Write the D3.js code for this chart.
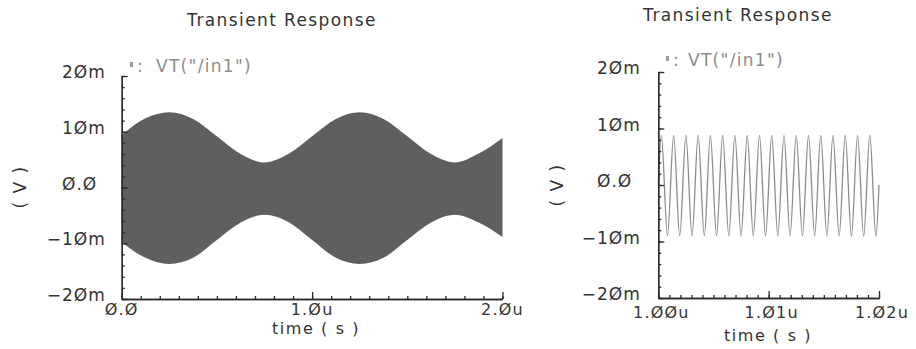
<!DOCTYPE html>
<html>
<head>
<meta charset="utf-8">
<script src="https://cdn.jsdelivr.net/npm/d3@7.9.0/dist/d3.min.js"></script>
<style>
  body { margin: 0; background: #fff; }
  svg { display: block; }
  text { font-family: "DejaVu Sans", sans-serif; }
</style>
</head>
<body>
<svg id="chart" width="916" height="349"></svg>
<script>
// Left trace is too dense to show cycles, so keep its envelope (time in µs, value in mV)
const leftTimes = [0, 0.125, 0.25, 0.375, 0.5, 0.625, 0.75, 0.875, 1.0,
                   1.125, 1.25, 1.375, 1.5, 1.625, 1.75, 1.875, 2.0];
const leftUpper = [9.4, 12.4, 13.5, 12.3, 9.2, 6.0, 4.5, 6.0, 9.2,
                   12.3, 13.5, 12.3, 9.2, 6.0, 4.5, 6.1, 8.9];
const leftLower = [-9.8, -12.6, -13.7, -12.6, -9.4, -6.3, -4.9, -6.2, -9.4,
                   -12.6, -13.7, -12.6, -9.4, -6.3, -4.9, -6.3, -8.9];

// Right trace: turning points, time in ns after 1.00u, value in mV
const rightOffsets = [0, 0.28, 0.83, 1.39, 1.94, 2.50, 3.06, 3.61, 4.17, 4.72, 5.28,
                      5.83, 6.39, 6.94, 7.50, 8.06, 8.61, 9.17, 9.72, 10.28, 10.83,
                      11.39, 11.94, 12.50, 13.06, 13.61, 14.17, 14.72, 15.28, 15.83,
                      16.39, 16.94, 17.50, 18.06, 18.61, 19.17, 19.72, 20.0];
const rightValues = [0, 8.8, -9.0, 8.8, -9.0, 8.8, -9.0, 8.8, -9.0, 8.8, -9.0,
                     8.8, -9.0, 8.8, -9.0, 8.8, -9.0, 8.8, -9.0, 8.8, -9.0,
                     8.8, -9.0, 8.8, -9.0, 8.8, -9.0, 8.8, -9.0, 8.8,
                     -9.0, 8.8, -9.1, 8.8, -9.1, 8.8, -9.1, 0];

const yTicks = [20, 10, 0, -10, -20];
const yTickLabels = ["2Øm", "1Øm", "Ø.Ø", "−1Øm", "−2Øm"];
const leftXTicks = [0, 1, 2];
const leftXLabels = ["Ø.Ø", "1.Øu", "2.Øu"];
const rightXTicks = [1000, 1010, 1020];
const rightXLabels = ["1.ØØu", "1.Ø1u", "1.Ø2u"];

const titleText = "Transient Response";
const legendText = "VT(\"/in1\")";
const xTitle = "time ( s )";
const yTitle = "( V )";

const svg = d3.select("#chart");
const ink = "#333";
const grey = "#8c8c8c";

function drawPanel(cfg) {
  const x = d3.scaleLinear().domain(cfg.xDomain).range([cfg.x0, cfg.x1]);
  const y = d3.scaleLinear().domain([-20, 20]).range([cfg.yBottom, cfg.yTop]);
  const g = svg.append("g");

  cfg.drawTrace(g, x, y);

  // y axis, ticks pointing into the plot
  const yMinor = d3.axisLeft(y).tickValues(d3.range(-20, 21, 2)).tickSize(-3).tickSizeOuter(0).tickFormat("");
  const yMajor = d3.axisLeft(y).tickValues(yTicks).tickSize(-6).tickSizeOuter(0).tickFormat("");
  [yMinor, yMajor].forEach(ax => {
    g.append("g").attr("transform", `translate(${cfg.x0},0)`).call(ax)
      .call(s => s.selectAll("path,line").attr("stroke", "#2b2b2b").attr("stroke-width", 1.3));
  });

  // x axis, ticks pointing up
  const xMinor = d3.axisBottom(x).tickValues(d3.range(cfg.xDomain[0], cfg.xDomain[1] + cfg.xStep / 2, cfg.xStep))
    .tickSize(-3).tickSizeOuter(0).tickFormat("");
  const xMajor = d3.axisBottom(x).tickValues(cfg.xTicks).tickSize(-7).tickSizeOuter(0).tickFormat("");
  [xMinor, xMajor].forEach(ax => {
    g.append("g").attr("transform", `translate(0,${cfg.yBottom})`).call(ax)
      .call(s => s.selectAll("path,line").attr("stroke", "#2b2b2b").attr("stroke-width", 1.3));
  });

  // y tick labels: the minus sign hangs left of the digits
  yTicks.forEach((v, i) => {
    const lab = yTickLabels[i];
    const neg = lab.startsWith("−");
    if (neg) {
      g.append("text").attr("x", cfg.labelX - 1).attr("y", y(v) + 2).attr("fill", ink)
        .attr("font-size", 17).attr("text-anchor", "end").text("−");
    }
    g.append("text").attr("x", cfg.labelX).attr("y", y(v) + 2).attr("fill", ink)
      .attr("font-size", 17).attr("letter-spacing", 1).text(neg ? lab.slice(1) : lab);
  });

  cfg.xTicks.forEach((v, i) => {
    g.append("text").attr("x", x(v) + cfg.xLabelShift).attr("y", cfg.yBottom + cfg.xLabelDy)
      .attr("text-anchor", "middle").attr("fill", ink).attr("font-size", 16).attr("letter-spacing", 1.2)
      .text(cfg.xLabels[i]);
  });

  g.append("text").attr("x", cfg.xTitleX).attr("y", cfg.xTitleY).attr("text-anchor", "middle")
    .attr("fill", ink).attr("font-size", 16).attr("letter-spacing", 1.6).attr("xml:space", "preserve")
    .text(xTitle);

  g.append("text").attr("transform", `translate(${cfg.yTitleX},${cfg.yTitleY}) rotate(-90)`)
    .attr("text-anchor", "middle").attr("fill", ink).attr("font-size", 17).attr("letter-spacing", 1.5)
    .attr("xml:space", "preserve").text(yTitle);

  g.append("text").attr("x", cfg.titleX).attr("y", cfg.titleY).attr("text-anchor", "middle")
    .attr("fill", ink).attr("font-size", 17).attr("letter-spacing", 1.4).text(titleText);

  // legend
  g.append("rect").attr("x", cfg.legendX).attr("y", cfg.legendY - 10).attr("width", 3).attr("height", 5)
    .attr("fill", "#999");
  g.append("text").attr("x", cfg.legendX + 7).attr("y", cfg.legendY).attr("fill", grey)
    .attr("font-size", 17).text(":");
  g.append("text").attr("x", cfg.legendX + cfg.legendGap).attr("y", cfg.legendY).attr("fill", grey)
    .attr("font-size", 17).attr("letter-spacing", 1.3).text(legendText);
}

drawPanel({
  xDomain: [0, 2], xStep: 0.1, xTicks: leftXTicks, xLabels: leftXLabels,
  x0: 121.7, x1: 502.5, yTop: 76, yBottom: 299,
  labelX: 62, xLabelDy: 16, xLabelShift: 0,
  xTitleX: 316, xTitleY: 334, yTitleX: 26, yTitleY: 187,
  titleX: 282, titleY: 26, legendX: 130, legendY: 72, legendGap: 26,
  drawTrace: (g, x, y) => {
    const area = d3.area()
      .x((d, i) => x(leftTimes[i]))
      .y0((d, i) => y(leftLower[i]))
      .y1((d, i) => y(leftUpper[i]))
      .curve(d3.curveMonotoneX);
    g.append("path").datum(leftTimes).attr("d", area).attr("fill", "#5f5f5f");
  }
});

drawPanel({
  xDomain: [1000, 1020], xStep: 1, xTicks: rightXTicks, xLabels: rightXLabels,
  x0: 658.3, x1: 879, yTop: 72, yBottom: 298,
  labelX: 597, xLabelDy: 20, xLabelShift: 3,
  xTitleX: 768, xTitleY: 341, yTitleX: 563, yTitleY: 185,
  titleX: 738, titleY: 21, legendX: 666, legendY: 66, legendGap: 22,
  drawTrace: (g, x, y) => {
    const line = d3.line()
      .x((d, i) => x(1000 + rightOffsets[i]))
      .y((d, i) => y(rightValues[i]))
      .curve(d3.curveMonotoneX);
    g.append("path").datum(rightOffsets).attr("d", line)
      .attr("fill", "none").attr("stroke", grey).attr("stroke-width", 1.3);
  }
});
</script>
</body>
</html>
